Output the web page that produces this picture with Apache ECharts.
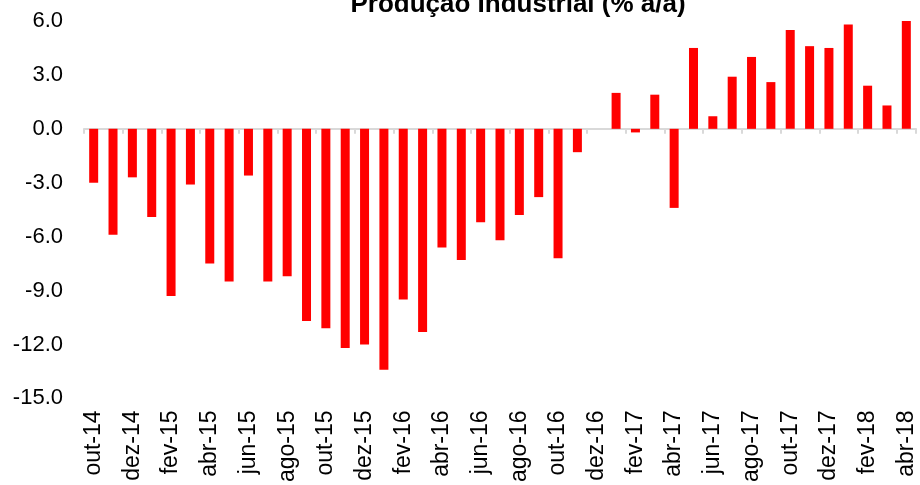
<!DOCTYPE html>
<html>
<head>
<meta charset="utf-8">
<script src="https://cdn.jsdelivr.net/npm/echarts@6/dist/echarts.min.js"></script>
<style>
  html, body { margin: 0; padding: 0; background: #fff; }
  #chart { width: 920px; height: 485px; }
</style>
</head>
<body>
<div id="chart"></div>
<script>
var months = [
    'out-14','nov-14','dez-14','jan-15','fev-15','mar-15','abr-15','mai-15','jun-15','jul-15','ago-15','set-15',
    'out-15','nov-15','dez-15','jan-16','fev-16','mar-16','abr-16','mai-16','jun-16','jul-16','ago-16','set-16',
    'out-16','nov-16','dez-16','jan-17','fev-17','mar-17','abr-17','mai-17','jun-17','jul-17','ago-17','set-17',
    'out-17','nov-17','dez-17','jan-18','fev-18','mar-18','abr-18'
];

// producao industrial, % a/a
var producao = [
    -3.0, -5.9, -2.7, -4.9, -9.3, -3.1, -7.5, -8.5, -2.6, -8.5, -8.2, -10.7,
    -11.1, -12.2, -12.0, -13.4, -9.5, -11.3, -6.6, -7.3, -5.2, -6.2, -4.8, -3.8,
    -7.2, -1.3, 0.0, 2.0, -0.2, 1.9, -4.4, 4.5, 0.7, 2.9, 4.0, 2.6,
    5.5, 4.6, 4.5, 5.8, 2.4, 1.3, 6.0
];

var yMin = -15, yMax = 6, yStep = 3;

var myChart = echarts.init(document.getElementById('chart'));

var font = 'Arial, "Liberation Sans", Helvetica, sans-serif';

option = {
    backgroundColor: '#fff',
    animation: false,
    title: {
        text: 'Produção Industrial (% a/a)',
        left: 513,
        top: -13,
        textAlign: 'center',
        textStyle: {
            fontFamily: font,
            fontSize: 26,
            fontWeight: 'bold',
            color: '#000'
        }
    },
    grid: {
        left: 84,
        right: 4,
        top: 21,
        bottom: 86
    },
    xAxis: [
        {
            type: 'category',
            data: months,
            position: 'bottom',
            axisLine: { show: false, onZero: false },
            axisTick: { show: false },
            axisLabel: {
                interval: 1,
                rotate: 90,
                margin: 12,
                fontFamily: font,
                fontSize: 23,
                color: '#000'
            }
        },
        {
            type: 'category',
            data: months,
            position: 'bottom',
            axisLine: {
                show: true,
                onZero: true,
                lineStyle: { color: '#d9d9d9', width: 2 }
            },
            axisTick: {
                show: true,
                interval: 1,
                length: 5,
                inside: false,
                lineStyle: { color: '#d9d9d9', width: 2 }
            },
            axisLabel: { show: false }
        }
    ],
    yAxis: {
        type: 'value',
        min: yMin,
        max: yMax,
        interval: yStep,
        axisLine: { show: false },
        axisTick: { show: false },
        splitLine: { show: false },
        axisLabel: {
            margin: 21,
            fontFamily: font,
            fontSize: 22,
            color: '#000',
            formatter: function (v) { return v.toFixed(1); }
        }
    },
    series: [
        {
            name: 'Produção Industrial',
            type: 'bar',
            xAxisIndex: 0,
            data: producao,
            barWidth: 9,
            clip: false,
            itemStyle: { color: '#ff0000' }
        }
    ]
};

myChart.setOption(option);
</script>
</body>
</html>
